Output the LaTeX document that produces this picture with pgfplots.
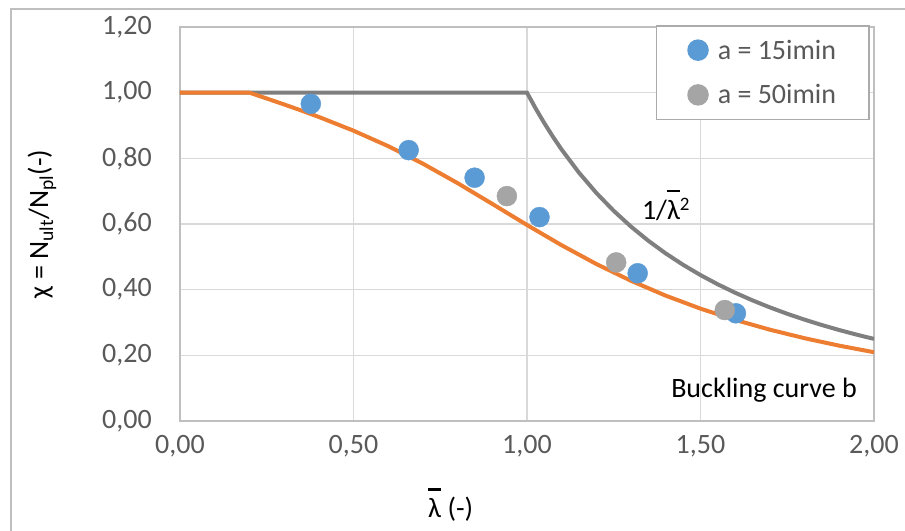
\documentclass[border=0pt]{standalone}
\usepackage{fontspec}
\setmainfont{Carlito}
\usepackage{pgfplots}
\pgfplotsset{compat=1.18}
\definecolor{cblue}{HTML}{5B9BD5}
\definecolor{cgray}{HTML}{A5A5A5}
\definecolor{corange}{HTML}{ED7D31}
\definecolor{cdark}{HTML}{7F7F7F}
\definecolor{ctext}{HTML}{595959}
\definecolor{cgrid}{HTML}{D9D9D9}
\definecolor{cborder}{HTML}{BFBFBF}
\definecolor{clegend}{HTML}{ABABAB}
\newcommand{\lbar}{\leavevmode\setbox0\hbox{λ}\hbox{\rlap{\raise\dimexpr\ht0+8bp\relax\hbox{\rule{\wd0}{2.5bp}}}λ}}
\newcommand{\bigf}{\fontsize{28bp}{34bp}\selectfont}
\begin{document}
\begin{tikzpicture}
\begin{axis}[
  name=ax, at={(0,0)}, anchor=south west,
  scale only axis, width=694bp, height=394bp,
  xmin=0, xmax=2, ymin=0, ymax=1.2,
  xtick={0,0.5,1,1.5,2},
  ytick={0,0.2,0.4,0.6,0.8,1.0,1.2},
  /pgf/number format/fixed,
  /pgf/number format/fixed zerofill,
  /pgf/number format/precision=2,
  /pgf/number format/use comma,
  /pgf/number format/assume math mode=true,
  grid=major,
  major grid style={cgrid, line width=1.5bp},
  axis line style={cborder, line width=1.5bp},
  major tick length=0pt,
  tick label style={font=\bigf, text=ctext},
  yticklabel style={anchor=east, inner sep=0pt, xshift=-28bp},
  xticklabel style={anchor=north, inner sep=0pt, yshift=-14bp},
  xlabel={\lbar\ (-)},
  ylabel={χ = N\textsubscript{ult}/N\textsubscript{pl}(-)},
  every axis y label/.style={at={(axis description cs:-0.199,0.5)}, rotate=90, anchor=center, font=\bigf, text=black},
  every axis x label/.style={at={(axis description cs:0.39,-0.213)}, anchor=center, font=\bigf, text=black},
  legend style={at={(axis description cs:0.994,1.005)}, anchor=north east,
    draw=clegend, line width=1.5bp, fill=white, font=\bigf, text=ctext,
    inner xsep=31bp, inner ysep=12bp, row sep=20bp},
  legend cell align=left,
  legend image code/.code={\path[#1] plot coordinates {(10bp,0bp)}; \path (0bp,0bp) (27bp,0bp);},
]
\addplot[cdark, line width=4bp, forget plot] coordinates {
(0,1) (1.0,1) (1.025,0.9518) (1.05,0.9070) (1.075,0.8653) (1.1,0.8264)
(1.15,0.7561) (1.2,0.6944) (1.25,0.64) (1.3,0.5917) (1.35,0.5487)
(1.4,0.5102) (1.45,0.4756) (1.5,0.4444) (1.55,0.4162) (1.6,0.3906)
(1.65,0.3673) (1.7,0.3460) (1.75,0.3265) (1.8,0.3086) (1.85,0.2922)
(1.9,0.2770) (1.95,0.2630) (2.0,0.25)
};
\addplot[corange, line width=4bp, forget plot] coordinates {
(0,1) (0.2,1) (0.25,0.9822) (0.3,0.9641) (0.35,0.9455) (0.4,0.9261)
(0.5,0.8842) (0.6,0.8371) (0.7,0.7837) (0.8,0.7245) (0.9,0.6612)
(1.0,0.5970) (1.1,0.5352) (1.2,0.4781) (1.3,0.4269) (1.4,0.3817)
(1.5,0.3422) (1.6,0.3079) (1.7,0.2781) (1.8,0.2521) (1.9,0.2294)
(2.0,0.2095)
};
\addplot[only marks, mark=*, mark size=10bp, mark options={draw=cblue, fill=cblue}] coordinates {
(0.377,0.966) (0.659,0.825) (0.849,0.741) (1.036,0.621) (1.319,0.450) (1.602,0.328)
};
\addlegendentry{a = 15imin}
\addplot[only marks, mark=*, mark size=10bp, mark options={draw=cgray, fill=cgray}] coordinates {
(0.942,0.685) (1.257,0.483) (1.570,0.338)
};
\addlegendentry{a = 50imin}
\node[font=\bigf, text=black] at (axis cs:1.40,0.658) {1/\lbar\raisebox{0.3em}{\fontsize{19bp}{20bp}\selectfont 2}};
\node[font=\bigf, text=black] at (axis cs:1.683,0.094) {Buckling curve b};
\end{axis}
\draw[cborder, line width=1.5bp] (-169bp,-140bp) rectangle (760bp,412bp);
\pgfresetboundingbox
\path[use as bounding box] (-180bp,-110bp) rectangle (725bp,421bp);
\end{tikzpicture}
\end{document}
